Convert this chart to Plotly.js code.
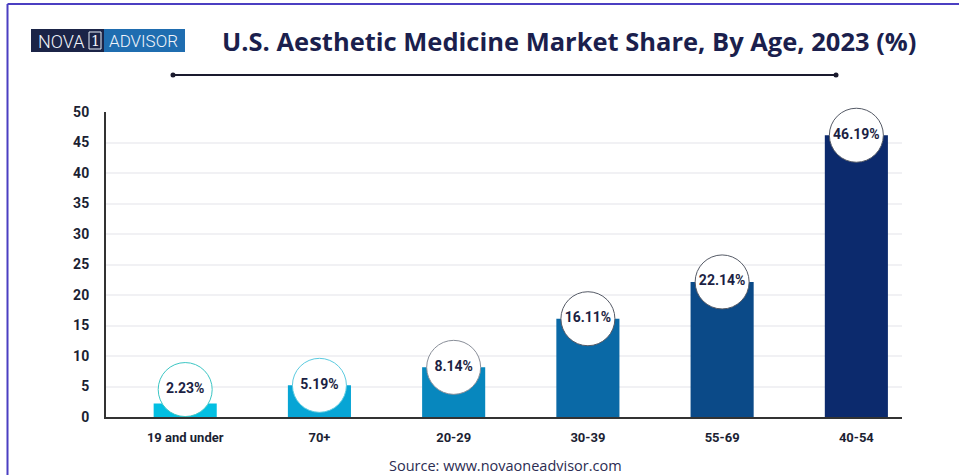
<!DOCTYPE html>
<html>
<head>
<meta charset="utf-8">
<script src="https://cdn.plot.ly/plotly-3.0.1.min.js"></script>
<style>
  html, body { margin: 0; padding: 0; background: #ffffff; }
  #chart { width: 959px; height: 475px; }
</style>
</head>
<body>
<div id="chart"></div>
<script>
// ---- data ----
const categories = ["19 and under", "70+", "20-29", "30-39", "55-69", "40-54"];
const shares = [2.23, 5.19, 8.14, 16.11, 22.14, 46.19];
const labels = ["2.23%", "5.19%", "8.14%", "16.11%", "22.14%", "46.19%"];
const yTicks = [0, 5, 10, 15, 20, 25, 30, 35, 40, 45, 50];

// ---- style ----
const barColors = ["#03bfe2", "#07a5d5", "#0787be", "#0a69a6", "#0b4a88", "#0c2a6d"];
const ringColors = ["#3cc6c4", "#5ccbe0", "#8a8f99", "#555a66", "#555a66", "#555a66"];

// plot area in pixels
const L = 106, R = 902, T = 112, B = 417;
const px2x = p => (p - L) / (R - L);
const py2y = p => (B - p) / (B - T);

// keep the label bubble above the axis line (bubble radius ~27px, 6.1px/unit)
const minCenter = 4.5;
const bubbleY = shares.map(v => Math.max(v, minCenter));

const bars = {
  type: "bar",
  x: categories,
  y: shares,
  marker: { color: barColors },
  width: 0.47,
  hoverinfo: "x+y",
  showlegend: false
};

const bubbles = {
  type: "scatter",
  mode: "markers+text",
  x: categories,
  y: bubbleY,
  text: labels,
  textposition: "middle center",
  textfont: { family: "Roboto, 'Open Sans', sans-serif", size: 14, color: "#1c1f44", weight: 700 },
  marker: { size: 54, color: "#ffffff", line: { color: ringColors, width: 1 } },
  cliponaxis: false,
  hoverinfo: "skip",
  showlegend: false
};

const shapes = [
  // outer frame (left + top)
  { type: "line", xref: "paper", yref: "paper", x0: px2x(7.5), x1: px2x(7.5), y0: py2y(4), y1: py2y(480), line: { color: "#4b3fc2", width: 2 } },
  { type: "line", xref: "paper", yref: "paper", x0: px2x(7.5), x1: px2x(970), y0: py2y(4), y1: py2y(4), line: { color: "#4b3fc2", width: 2 } },
  // title underline
  { type: "line", xref: "paper", yref: "paper", x0: px2x(173), x1: px2x(836), y0: py2y(75), y1: py2y(75), line: { color: "#1a1a2e", width: 2 } },
  { type: "circle", xref: "paper", yref: "paper", xsizemode: "pixel", ysizemode: "pixel", xanchor: px2x(173), yanchor: py2y(75), x0: -2.5, x1: 2.5, y0: -2.5, y1: 2.5, fillcolor: "#1a1a2e", line: { width: 0 } },
  { type: "circle", xref: "paper", yref: "paper", xsizemode: "pixel", ysizemode: "pixel", xanchor: px2x(836), yanchor: py2y(75), x0: -2.5, x1: 2.5, y0: -2.5, y1: 2.5, fillcolor: "#1a1a2e", line: { width: 0 } },
  // logo
  { type: "rect", xref: "paper", yref: "paper", x0: px2x(31), x1: px2x(104), y0: py2y(52), y1: py2y(29), fillcolor: "#1b2447", line: { width: 0 } },
  { type: "rect", xref: "paper", yref: "paper", x0: px2x(104), x1: px2x(185), y0: py2y(52), y1: py2y(29), fillcolor: "#1f6db0", line: { width: 0 } },
  { type: "rect", xref: "paper", yref: "paper", x0: px2x(89), x1: px2x(101), y0: py2y(49), y1: py2y(32), fillcolor: "rgba(0,0,0,0)", line: { color: "#e8eef8", width: 1 } }
];

const annotations = [
  { xref: "paper", yref: "paper", x: px2x(569), y: py2y(41), text: "<b>U.S. Aesthetic Medicine Market Share, By Age, 2023 (%)</b>", showarrow: false, xanchor: "center", yanchor: "middle", font: { family: "'Open Sans', sans-serif", size: 25.5, color: "#1b1f4d" } },
  { xref: "paper", yref: "paper", x: px2x(61), y: py2y(41), text: "NOVA", showarrow: false, xanchor: "center", yanchor: "middle", font: { family: "Roboto, sans-serif", size: 18, color: "#f2f4fa", weight: 300 } },
  { xref: "paper", yref: "paper", x: px2x(95), y: py2y(41), text: "1", showarrow: false, xanchor: "center", yanchor: "middle", font: { family: "'DejaVu Serif', serif", size: 14, color: "#f2f4fa" } },
  { xref: "paper", yref: "paper", x: px2x(143), y: py2y(41), text: "ADVISOR", showarrow: false, xanchor: "center", yanchor: "middle", font: { family: "Roboto, sans-serif", size: 17, color: "#f2f4fa", weight: 300 } },
  { xref: "paper", yref: "paper", x: px2x(505), y: py2y(465), text: "Source: www.novaoneadvisor.com", showarrow: false, xanchor: "center", yanchor: "middle", font: { family: "'Open Sans', sans-serif", size: 14.5, color: "#2b2c52" } }
];

const layout = {
  width: 959,
  height: 475,
  margin: { l: L, r: 959 - R, t: T, b: 475 - B, pad: 0 },
  paper_bgcolor: "#ffffff",
  plot_bgcolor: "#ffffff",
  font: { family: "Roboto, sans-serif", color: "#1c1f33" },
  xaxis: {
    type: "category",
    range: [-0.59, 5.34],
    showline: true,
    linecolor: "#333333",
    linewidth: 2,
    ticks: "",
    showgrid: false,
    tickfont: { family: "Roboto, sans-serif", size: 13, color: "#1c1f33", weight: 700 },
    ticklabelstandoff: 7
  },
  yaxis: {
    range: [0, 50],
    tickvals: yTicks,
    ticktext: yTicks.map(String),
    showline: true,
    linecolor: "#333333",
    linewidth: 2,
    ticks: "",
    showgrid: true,
    gridcolor: "#f1f1f4",
    gridwidth: 2,
    zeroline: false,
    tickfont: { family: "Roboto, sans-serif", size: 14, color: "#1c1f33", weight: 700 },
    ticklabelstandoff: 12
  },
  shapes: shapes,
  annotations: annotations
};

Plotly.newPlot("chart", [bars, bubbles], layout, { displayModeBar: false, staticPlot: true });
</script>
</body>
</html>
